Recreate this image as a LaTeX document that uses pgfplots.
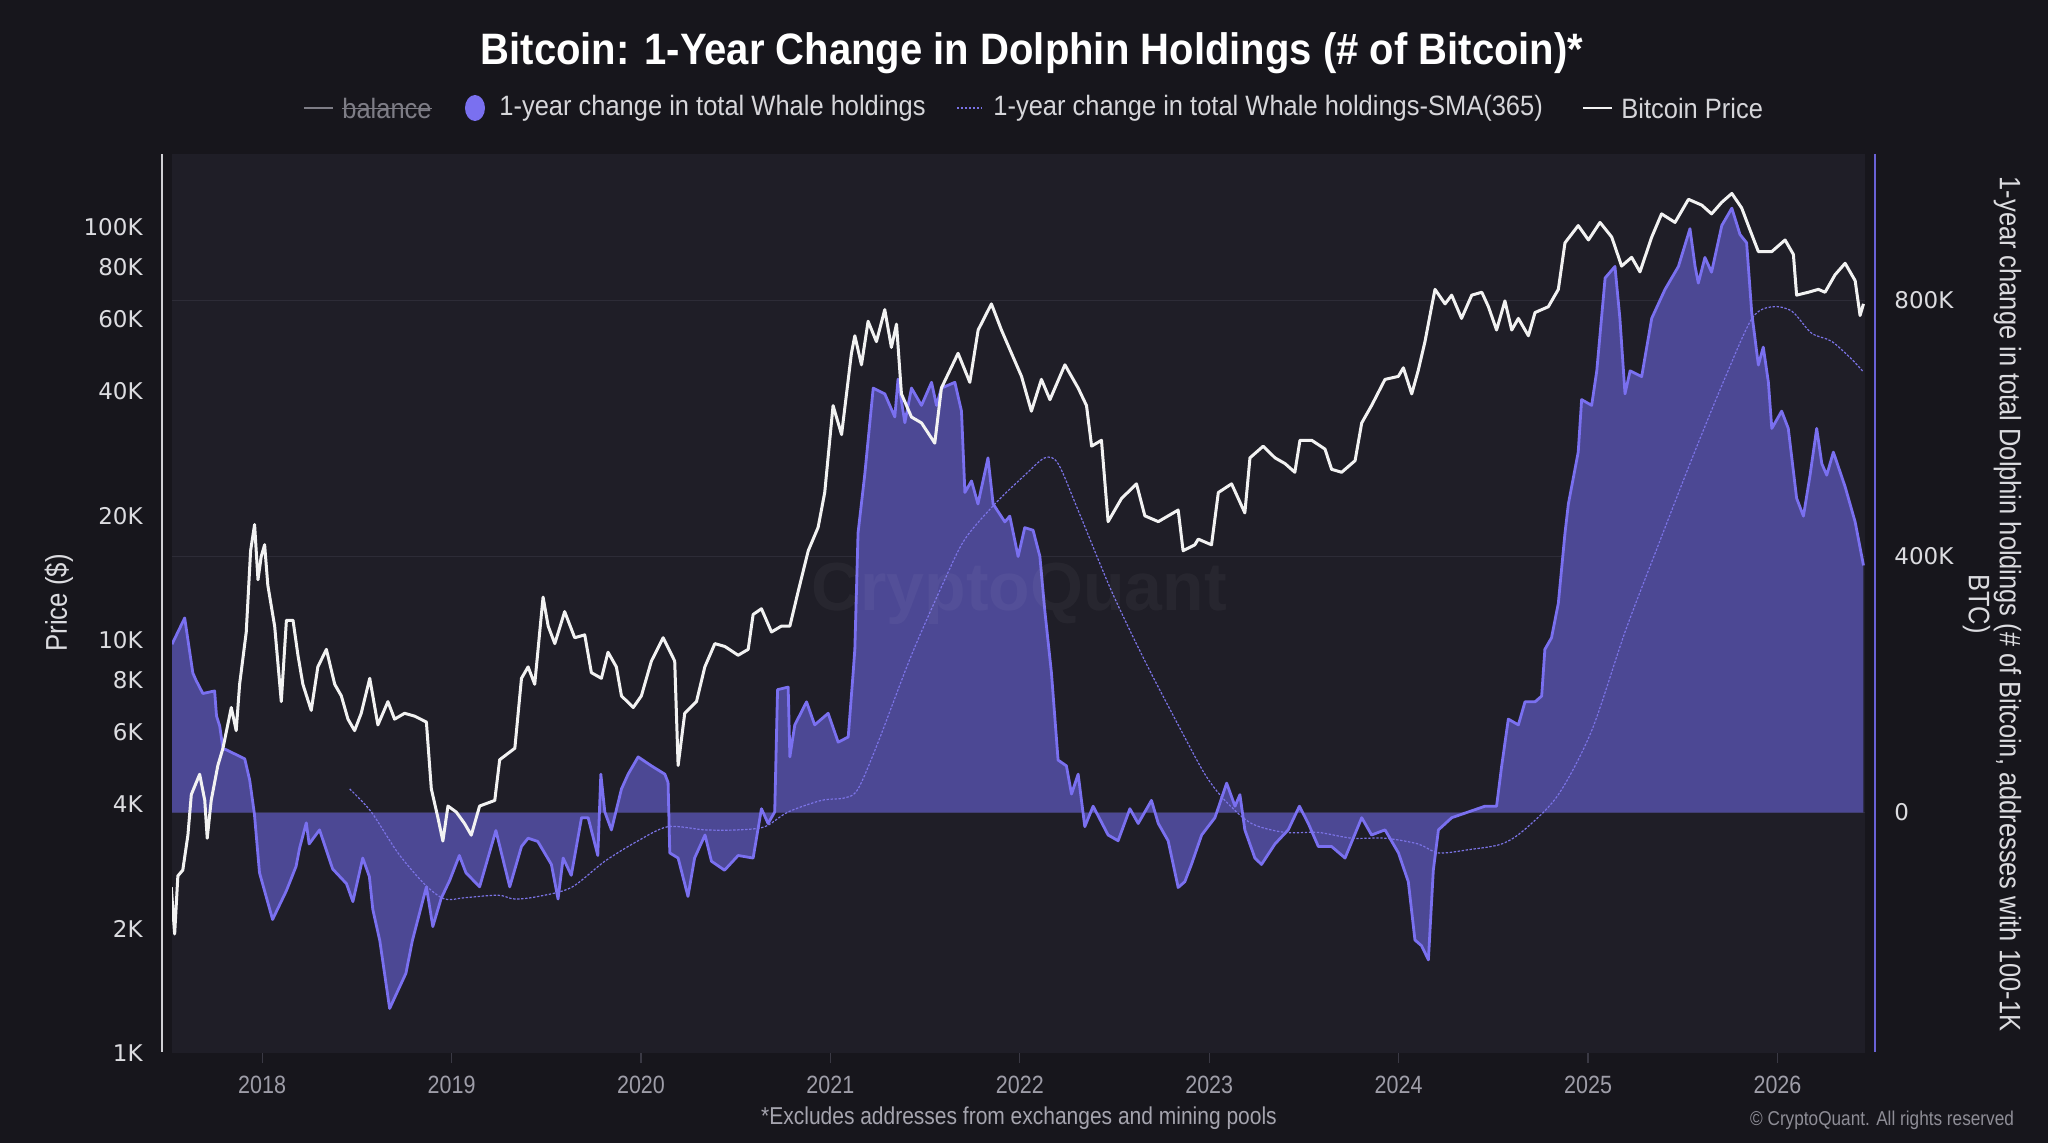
\documentclass[border=0pt]{standalone}
\usepackage{pgfplots}
\usepackage{pgfplotstable}
\pgfplotsset{compat=1.18}
\usepackage{fontspec}
\setmainfont{Liberation Sans}
\newfontfamily\cond[FakeStretch=0.86]{Liberation Sans}
\newfontfamily\condb[FakeStretch=0.91]{Liberation Sans}
\newfontfamily\tickfont{DejaVu Sans}

\definecolor{bgout}{HTML}{17161C}
\definecolor{plotbg}{HTML}{1F1E27}
\definecolor{gridc}{HTML}{2D2C37}
\definecolor{whalefill}{HTML}{4C4894}
\definecolor{whaleline}{HTML}{7A70F0}
\definecolor{smac}{HTML}{7B73E6}
\definecolor{pricec}{HTML}{F2F2F2}
\definecolor{legc}{HTML}{D6D6DA}
\definecolor{balc}{HTML}{7E7D86}
\definecolor{tickc}{HTML}{DCDCE0}
\definecolor{xtickc}{HTML}{9E9DA8}
\definecolor{xtickmark}{HTML}{3A3944}
\definecolor{footc}{HTML}{A5A4AE}
\definecolor{copyc}{HTML}{8E8D96}
\definecolor{leftaxis}{HTML}{D0D0D4}
\definecolor{rightaxis}{HTML}{6A62D6}

% 1-year change in holdings, thousands of BTC
\pgfplotstableread{
year chg
2017.524 263
2017.591 304
2017.634 218
2017.652 206
2017.687 186
2017.749 190
2017.759 151
2017.776 135
2017.793 100
2017.811 98
2017.908 84
2017.934 51
2017.959 -2
2017.986 -94
2018.055 -167
2018.128 -122
2018.179 -84
2018.198 -55
2018.233 -16
2018.248 -49
2018.303 -27
2018.372 -88
2018.445 -111
2018.479 -139
2018.531 -71
2018.566 -100
2018.584 -151
2018.621 -200
2018.673 -306
2018.759 -251
2018.793 -200
2018.867 -116
2018.901 -178
2018.945 -134
2018.990 -106
2019.041 -67
2019.076 -94
2019.148 -116
2019.234 -28
2019.307 -116
2019.369 -53
2019.404 -40
2019.455 -45
2019.527 -81
2019.562 -135
2019.589 -71
2019.632 -98
2019.686 -8
2019.721 -8
2019.772 -67
2019.788 60
2019.809 1
2019.844 -27
2019.897 37
2019.932 60
2019.985 87
2020.055 73
2020.126 60
2020.143 47
2020.152 -63
2020.196 -71
2020.248 -131
2020.283 -71
2020.338 -35
2020.372 -76
2020.441 -90
2020.513 -67
2020.592 -71
2020.636 6
2020.671 -17
2020.706 1
2020.721 192
2020.777 196
2020.786 87
2020.812 137
2020.874 173
2020.917 137
2020.988 155
2021.041 110
2021.094 118
2021.120 218
2021.129 255
2021.146 437
2021.181 527
2021.226 663
2021.287 654
2021.340 618
2021.357 677
2021.393 609
2021.428 663
2021.481 636
2021.534 672
2021.560 636
2021.586 663
2021.657 672
2021.692 627
2021.710 500
2021.745 518
2021.779 482
2021.832 554
2021.859 482
2021.921 454
2021.947 463
2021.991 400
2022.026 445
2022.070 441
2022.106 400
2022.131 318
2022.167 218
2022.202 82
2022.246 73
2022.273 29
2022.308 60
2022.343 -22
2022.387 10
2022.466 -35
2022.519 -44
2022.581 6
2022.625 -17
2022.695 19
2022.731 -17
2022.783 -44
2022.836 -117
2022.871 -108
2022.906 -81
2022.960 -35
2023.030 -8
2023.092 46
2023.136 10
2023.162 28
2023.188 -27
2023.241 -71
2023.276 -81
2023.347 -49
2023.417 -27
2023.476 10
2023.523 -17
2023.576 -53
2023.646 -53
2023.717 -71
2023.805 -8
2023.857 -35
2023.928 -27
2023.999 -63
2024.051 -108
2024.086 -199
2024.121 -208
2024.157 -230
2024.183 -90
2024.210 -27
2024.280 -8
2024.368 1
2024.456 10
2024.517 10
2024.544 73
2024.579 146
2024.632 137
2024.667 173
2024.720 173
2024.755 182
2024.772 255
2024.807 273
2024.843 327
2024.878 436
2024.896 482
2024.948 563
2024.966 645
2025.019 636
2025.046 690
2025.090 835
2025.142 853
2025.168 772
2025.195 654
2025.222 690
2025.283 681
2025.336 772
2025.406 817
2025.477 853
2025.538 912
2025.565 853
2025.582 827
2025.617 867
2025.652 844
2025.706 917
2025.759 944
2025.802 903
2025.837 890
2025.864 781
2025.899 699
2025.925 727
2025.952 672
2025.970 600
2026.022 627
2026.057 600
2026.101 491
2026.137 463
2026.172 527
2026.207 600
2026.234 545
2026.260 527
2026.295 563
2026.357 509
2026.410 454
2026.454 386
}\whaletab

% 365-day simple moving average of the series above
\pgfplotstableread{
year sma
2018.462 37
2018.576 1
2018.717 -63
2018.858 -112
2018.963 -135
2019.069 -133
2019.245 -129
2019.333 -135
2019.457 -131
2019.632 -117
2019.809 -76
2019.985 -44
2020.143 -22
2020.338 -27
2020.513 -27
2020.654 -22
2020.777 1
2020.952 19
2021.076 23
2021.146 37
2021.252 110
2021.428 246
2021.604 364
2021.710 427
2021.868 482
2022.026 527
2022.132 554
2022.202 545
2022.308 472
2022.484 346
2022.660 237
2022.836 137
2022.977 60
2023.083 19
2023.223 -17
2023.400 -31
2023.576 -31
2023.752 -40
2023.928 -40
2024.103 -49
2024.210 -63
2024.368 -58
2024.544 -49
2024.667 -26
2024.843 28
2025.019 128
2025.195 282
2025.371 418
2025.550 554
2025.726 681
2025.866 772
2025.970 790
2026.076 783
2026.179 749
2026.286 736
2026.392 708
2026.454 688
}\smatab

% Bitcoin price, USD
\pgfplotstableread{
year price
2017.520 2520
2017.538 1942
2017.555 2685
2017.581 2773
2017.608 3370
2017.626 4227
2017.670 4732
2017.697 4090
2017.710 3313
2017.731 4090
2017.766 4968
2017.793 5472
2017.837 6866
2017.863 6036
2017.881 7816
2017.916 10462
2017.939 16460
2017.960 19046
2017.978 14006
2017.995 15940
2018.013 17022
2018.030 13565
2018.066 10810
2018.101 7096
2018.128 11164
2018.163 11164
2018.189 9190
2018.215 7816
2018.259 6757
2018.294 8612
2018.339 9496
2018.383 7816
2018.418 7326
2018.453 6435
2018.488 6036
2018.523 6649
2018.568 8079
2018.611 6231
2018.664 7096
2018.699 6435
2018.752 6649
2018.805 6544
2018.867 6333
2018.893 4364
2018.928 3712
2018.954 3261
2018.981 3964
2019.025 3833
2019.069 3593
2019.104 3370
2019.148 3964
2019.228 4090
2019.254 5131
2019.334 5472
2019.369 8079
2019.404 8612
2019.439 7816
2019.483 12711
2019.510 10810
2019.545 9806
2019.597 11722
2019.650 10132
2019.703 10296
2019.738 8341
2019.791 8079
2019.826 9345
2019.870 8612
2019.897 7326
2019.959 6866
2020.002 7326
2020.055 8897
2020.117 10132
2020.178 8897
2020.196 4968
2020.231 6649
2020.293 7096
2020.337 8612
2020.390 9806
2020.443 9649
2020.513 9190
2020.566 9496
2020.592 11535
2020.636 11910
2020.689 10462
2020.741 10810
2020.786 10810
2020.830 13125
2020.883 16460
2020.935 18745
2020.970 22770
2021.014 36983
2021.059 31460
2021.111 49500
2021.129 54580
2021.164 46420
2021.199 59180
2021.243 52820
2021.287 63140
2021.322 51160
2021.349 58240
2021.375 39470
2021.428 34690
2021.481 33570
2021.551 29990
2021.586 40780
2021.674 49500
2021.736 42110
2021.780 56360
2021.850 65200
2021.903 56360
2021.956 49500
2022.009 43510
2022.061 35830
2022.114 42790
2022.159 38220
2022.238 46420
2022.308 40780
2022.352 36983
2022.379 29490
2022.431 30470
2022.466 19360
2022.537 22030
2022.616 23900
2022.660 20000
2022.731 19360
2022.836 20650
2022.862 16460
2022.924 17010
2022.942 17560
2023.012 17010
2023.048 22770
2023.118 23900
2023.188 20320
2023.215 27630
2023.285 29490
2023.347 27630
2023.400 26760
2023.452 25490
2023.479 30470
2023.541 30470
2023.611 29020
2023.646 25920
2023.699 25490
2023.770 27200
2023.805 33570
2023.857 36983
2023.928 42790
2023.998 43510
2024.025 45650
2024.069 39470
2024.103 44920
2024.139 52820
2024.174 64160
2024.192 70700
2024.245 65200
2024.280 68460
2024.332 60130
2024.386 68460
2024.439 69570
2024.474 64160
2024.517 56360
2024.561 66300
2024.597 56360
2024.632 60130
2024.685 54580
2024.720 62130
2024.790 64160
2024.843 70700
2024.878 91620
2024.948 100900
2025.002 93110
2025.063 102700
2025.125 94620
2025.177 80500
2025.230 84530
2025.274 77960
2025.336 94620
2025.388 107700
2025.459 102700
2025.530 116800
2025.600 113100
2025.652 107700
2025.706 114900
2025.759 120700
2025.811 111300
2025.846 100900
2025.899 87280
2025.970 87280
2026.040 93110
2026.084 85900
2026.101 68460
2026.163 69570
2026.216 70700
2026.251 69570
2026.304 76700
2026.357 81770
2026.410 74230
2026.436 61110
2026.454 65200
}\pricetab

\pgfplotsset{
  common/.style={
    at={(86bp,-526.5bp)}, anchor=south west,
    scale only axis, width=846.5bp, height=449.5bp,
    xmin=2017.524, xmax=2026.462,
    axis line style={draw=none},
  },
}

\begin{document}
\begin{tikzpicture}
\fill[bgout] (0,0) rectangle (1024bp,-571.5bp);

% right axis: change in holdings
\begin{axis}[common,
  axis background/.style={fill=plotbg},
  axis x line*=bottom, axis y line*=right,
  ymin=-375.5, ymax=1028.6,
  xtick={2018,2019,2020,2021,2022,2023,2024,2025,2026},
  xticklabels={2018,2019,2020,2021,2022,2023,2024,2025,2026},
  xticklabel style={font=\cond\fontsize{12.5bp}{14bp}\selectfont, text=xtickc, anchor=center, yshift=-11bp},
  xtick style={draw=xtickmark, line width=0.6bp},
  tick align=outside, major tick length=5bp,
  ytick={0,400,800}, yticklabels={0,400K,800K},
  ytick style={draw=none},
  yticklabel style={font=\tickfont\fontsize{11.5bp}{13bp}\selectfont, text=tickc, anchor=west, inner sep=0pt, xshift=9.5bp},
  ymajorgrids, grid style={gridc, line width=0.6bp},
]
\addplot[fill=whalefill, draw=none] table[x=year, y=chg] {\whaletab} \closedcycle;
\addplot[whaleline, line width=1.4bp, line join=round] table[x=year, y=chg] {\whaletab};
\addplot[smac, line width=0.6bp, dash pattern=on 1.2bp off 0.8bp, smooth] table[x=year, y=sma] {\smatab};
\end{axis}

% left axis: price, log scale
\begin{axis}[common,
  axis x line*=bottom, axis y line*=left,
  xtick=\empty,
  ymode=log, ymin=1000, ymax=150400,
  ytick={1000,2000,4000,6000,8000,10000,20000,40000,60000,80000,100000},
  yticklabels={1K,2K,4K,6K,8K,10K,20K,40K,60K,80K,100K},
  ytick style={draw=none}, major tick length=0pt,
  yticklabel style={font=\tickfont\fontsize{11.5bp}{13bp}\selectfont, text=tickc, anchor=east, inner sep=0pt, xshift=-14.5bp},
]
\addplot[pricec, line width=1.5bp, line join=round] table[x=year, y=price] {\pricetab};
\end{axis}

\begin{scope}[x=0.5bp, y=-0.5bp]
  % axis spines
  \draw[leftaxis, line width=1.2bp] (162,154) -- (162,1052);
  \draw[rightaxis, line width=1.2bp] (1875,154) -- (1875,1052);
  % watermark
  \node[opacity=0.04, text=white, font=\bfseries\fontsize{34bp}{40bp}\selectfont] at (1019,594) {CryptoQuant};
  % title
  \node[text=white, font=\condb\bfseries\fontsize{22bp}{26bp}\selectfont] at (1032,53) {Bitcoin: 1-Year Change in Dolphin Holdings (\# of Bitcoin)*};
  % legend
  \draw[balc, line width=1bp] (304,108) -- (333,108);
  \node[anchor=west, inner sep=0pt, text=balc, font=\condb\fontsize{14bp}{15bp}\selectfont] (bal) at (342,108) {balance};
  \draw[balc, line width=0.8bp] ([yshift=-0.3bp]bal.west) -- ([yshift=-0.3bp]bal.east);
  \fill[whaleline] (475,108) ellipse (10 and 13);
  \node[anchor=west, inner sep=0pt, text=legc, font=\condb\fontsize{14bp}{15bp}\selectfont] at (499,108) {1-year change in total Whale holdings};
  \draw[smac, line width=0.8bp, dash pattern=on 1.2bp off 0.8bp] (957,108) -- (982,108);
  \node[anchor=west, inner sep=0pt, text=legc, font=\condb\fontsize{14bp}{15bp}\selectfont] at (993,108) {1-year change in total Whale holdings-SMA(365)};
  \draw[pricec, line width=1bp] (1583,108) -- (1612,108);
  \node[anchor=west, inner sep=0pt, text=legc, font=\condb\fontsize{14bp}{15bp}\selectfont] at (1621,108) {Bitcoin Price};
  % axis titles
  \node[rotate=90, text=tickc, font=\cond\fontsize{15bp}{17bp}\selectfont] at (59,603) {Price (\$)};
  \node[rotate=-90, align=center, text=tickc, font=\cond\fontsize{14.8bp}{15.5bp}\selectfont] at (1992,604) {1-year change in total Dolphin holdings (\# of Bitcoin, addresses with 100-1K\\BTC)};
  % notes
  \node[text=footc, font=\cond\fontsize{12.2bp}{14bp}\selectfont] at (1019,1118) {*Excludes addresses from exchanges and mining pools};
  \node[anchor=east, text=copyc, font=\cond\fontsize{10bp}{12bp}\selectfont] at (2021,1120) {\textcopyright\ CryptoQuant. All rights reserved};
\end{scope}
\end{tikzpicture}
\end{document}
